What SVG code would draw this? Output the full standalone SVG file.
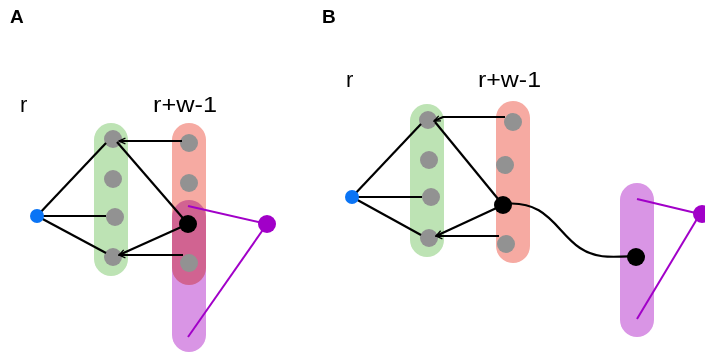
<svg xmlns="http://www.w3.org/2000/svg" width="705" height="353" viewBox="0 0 705 353">
<style>
.lbl{font-family:"Liberation Sans",Arial,sans-serif;font-size:22px;fill:#000}
.pl{font-family:"Liberation Sans",Arial,sans-serif;font-size:19px;font-weight:bold;fill:#000}
.green{fill:#bde3b4}
.red{fill:#f6aaa2}
.purple{fill:#d995e5;mix-blend-mode:multiply}
.gray{fill:#929292}
.blk{fill:#000}
.blue{fill:#0a74f5}
.pnode{fill:#a100c8}
.e{stroke:#000;stroke-width:2.2;fill:none}
.ea{stroke:#000;stroke-width:2.2;fill:none;marker-end:url(#arr)}
.pe{stroke:#a100c8;stroke-width:2;fill:none}
</style>
<defs>
<marker id="arr" viewBox="0 0 10 10" refX="9" refY="5" markerWidth="8" markerHeight="8" orient="auto" markerUnits="userSpaceOnUse">
<path d="M1,1.5 L9,5 L1,8.5" fill="none" stroke="#000" stroke-width="1.6"/>
</marker>
</defs>
<g id="labels">
<text class="pl" x="10" y="23">A</text>
<text class="pl" x="322" y="23">B</text>
<text class="lbl" x="20" y="112">r</text>
<text class="lbl" x="153" y="112" textLength="64" lengthAdjust="spacingAndGlyphs">r+w-1</text>
<text class="lbl" x="346" y="87">r</text>
<text class="lbl" x="478" y="87" textLength="63" lengthAdjust="spacingAndGlyphs">r+w-1</text>
</g>
<g id="panelA-groups">
<rect id="A-green" class="green" x="94" y="123" width="34" height="153" rx="17"/>
<rect id="A-red" class="red" x="172" y="123" width="34" height="162" rx="17"/>
<rect id="A-purple" class="purple" x="172" y="200" width="34" height="152" rx="17"/>
</g>
<g id="panelB-groups">
<rect id="B-green" class="green" x="410" y="104" width="34" height="153" rx="17"/>
<rect id="B-red" class="red" x="496" y="101" width="34" height="162" rx="17"/>
<rect id="B-purple" class="purple" x="620" y="183" width="34" height="154" rx="17"/>
</g>
<g id="A-gray-nodes">
<circle id="A-g1" class="gray" cx="113" cy="139" r="9"/>
<circle id="A-g2" class="gray" cx="113" cy="179" r="9"/>
<circle id="A-g3" class="gray" cx="115" cy="217" r="9"/>
<circle id="A-g4" class="gray" cx="113" cy="257" r="9"/>
<circle id="A-r1" class="gray" cx="189" cy="143" r="9"/>
<circle id="A-r2" class="gray" cx="189" cy="183" r="9"/>
<circle id="A-r4" class="gray" cx="189" cy="263" r="9"/>
</g>
<g id="B-gray-nodes">
<circle id="B-g1" class="gray" cx="428" cy="120" r="9"/>
<circle id="B-g2" class="gray" cx="429" cy="160" r="9"/>
<circle id="B-g3" class="gray" cx="431" cy="197" r="9"/>
<circle id="B-g4" class="gray" cx="429" cy="238" r="9"/>
<circle id="B-r1" class="gray" cx="513" cy="122" r="9"/>
<circle id="B-r2" class="gray" cx="505" cy="165" r="9"/>
<circle id="B-r4" class="gray" cx="506" cy="244" r="9"/>
</g>
<g id="connectors">
<line class="e" x1="37" y1="216" x2="106" y2="143"/>
<line class="e" x1="37" y1="216" x2="106" y2="216"/>
<line class="e" x1="37" y1="216" x2="106" y2="253"/>
<line class="ea" x1="182" y1="141" x2="119" y2="141"/>
<line class="e" x1="117" y1="142" x2="188" y2="224" stroke-width="2.4"/>
<line class="ea" x1="188" y1="224" x2="119" y2="255" stroke-width="2.4"/>
<line class="ea" x1="183" y1="255" x2="119" y2="255"/>
<line class="pe" x1="188" y1="206" x2="267" y2="224"/>
<line class="pe" x1="188" y1="337" x2="267" y2="224"/>

<line class="e" x1="352" y1="197" x2="421" y2="124"/>
<line class="e" x1="352" y1="197" x2="422" y2="197"/>
<line class="e" x1="352" y1="197" x2="421" y2="235"/>
<path class="ea" d="M505,117 L443,117 L434,121"/>
<line class="e" x1="435" y1="122" x2="503" y2="205" stroke-width="2.4"/>
<line class="ea" x1="503" y1="205" x2="436" y2="236" stroke-width="2.4"/>
<line class="ea" x1="499" y1="236" x2="436" y2="236"/>
<path class="e" d="M503,204 C548,199 556,232 580,248 C596,259 612,257 636,256"/>
<line class="pe" x1="637" y1="199" x2="700" y2="214"/>
<line class="pe" x1="637" y1="319" x2="700" y2="214"/>
</g>
<g id="A-nodes">
<circle id="A-r3" class="blk" cx="188" cy="224" r="9"/>
<circle id="A-blue" class="blue" cx="37" cy="216" r="7"/>
<circle id="A-pnode" class="pnode" cx="267" cy="224" r="9"/>
</g>
<g id="B-nodes">
<circle id="B-r3" class="blk" cx="503" cy="205" r="9"/>
<circle id="B-blue" class="blue" cx="352" cy="197" r="7"/>
<circle id="B-black2" class="blk" cx="636" cy="257" r="9"/>
<circle id="B-pnode" class="pnode" cx="702" cy="214" r="9"/>
</g>
</svg>
